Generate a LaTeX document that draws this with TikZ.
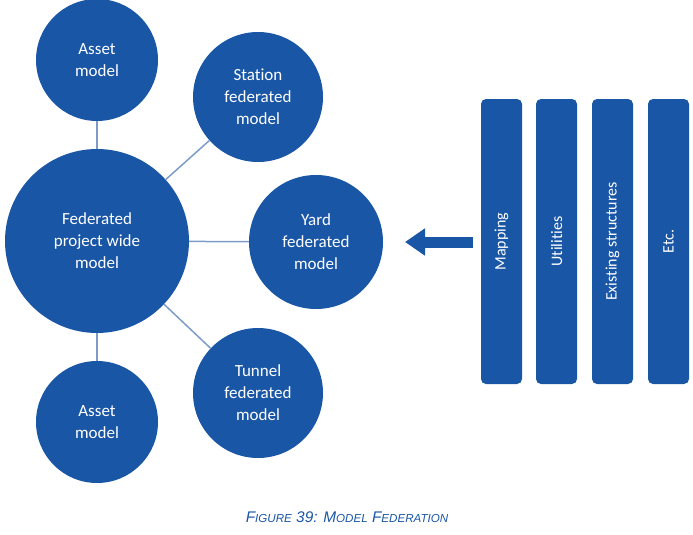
\documentclass[tikz,border=0pt]{standalone}
\usepackage{fontspec}
\setmainfont{Carlito}[Ligatures=NoCommon]
\newfontfamily\captionfont{Liberation Sans}
\usetikzlibrary{arrows.meta}

\definecolor{fedblue}{RGB}{26,86,166}
\definecolor{linkblue}{RGB}{125,155,200}

% fake small caps for the caption
\newcommand{\lowcaps}[1]{{\fontsize{11.6}{13}\selectfont #1}}

\tikzset{
  model/.style={circle, fill=fedblue, text=white, align=center, inner sep=0pt,
    font=\fontsize{17}{22}\selectfont},
  link/.style={linkblue, line width=1.5pt},
  layer/.style={rectangle, rounded corners=5pt, fill=fedblue, text=white,
    minimum width=285pt, minimum height=41pt, inner sep=0pt, rotate=90,
    font=\fontsize{16}{19}\selectfont}
}

\begin{document}
\begin{tikzpicture}[x=1pt,y=-1pt]
  \useasboundingbox (0,0) rectangle (693,535);

  % Model circles
  \node[model, minimum size=184pt] (project) at (97,241) {Federated\\project wide\\model};
  \node[model, minimum size=122pt] (assettop) at (97,60) {Asset\\model};
  \node[model, minimum size=130pt] (station) at (258,97) {Station\\federated\\model};
  \node[model, minimum size=134pt] (yard) at (316,242) {Yard\\federated\\model};
  \node[model, minimum size=130pt] (tunnel) at (258,393) {Tunnel\\federated\\model};
  \node[model, minimum size=122pt] (assetbottom) at (97,422) {Asset\\model};

  % Links from the project wide model
  \foreach \m in {assettop,station,yard,tunnel,assetbottom} {
    \draw[link] (project) -- (\m);
  }

  % Data layers
  \foreach \x/\name/\txt in {501.5/mapping/Mapping, 556.5/utilities/Utilities,
      612.5/existing/Existing structures, 668.5/etc/Etc.} {
    \node[layer] (\name) at (\x,241.5) {\txt};
  }

  % Big arrow towards the yard model
  \coordinate (arrowtail) at (473,242);
  \coordinate (arrowtip) at (405,242);
  \draw[fedblue, line width=11pt, -{Triangle[length=20pt,width=26pt]}] (arrowtail) -- (arrowtip);

  % Caption
  \node[font=\captionfont\itshape\fontsize{15.4}{17}\selectfont, text=fedblue] (caption) at (347,517)
    {F\lowcaps{IGURE} 39: M\lowcaps{ODEL} F\lowcaps{EDERATION}};
\end{tikzpicture}
\end{document}
